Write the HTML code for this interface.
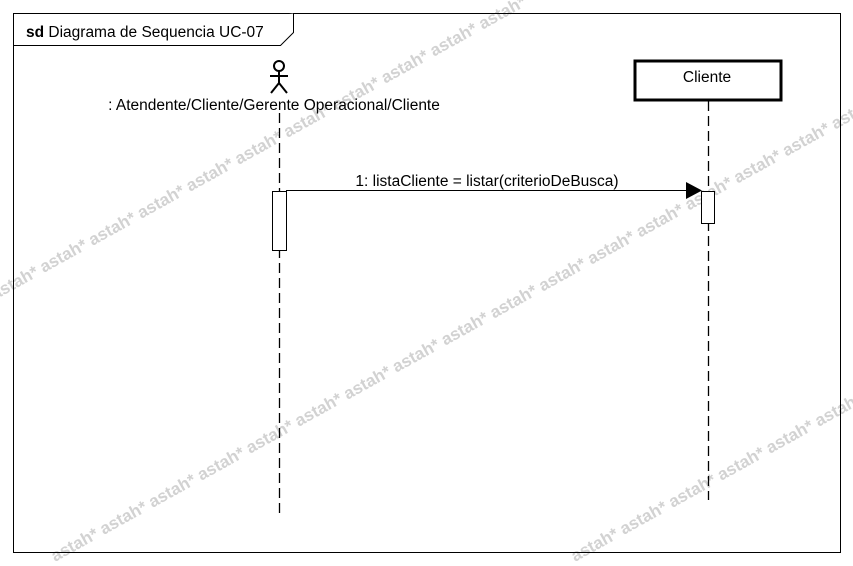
<!DOCTYPE html>
<html><head><meta charset="utf-8"><style>
html,body{margin:0;padding:0;background:#fff;}
svg{display:block;}
</style></head><body>
<svg width="853" height="566" viewBox="0 0 853 566" xmlns="http://www.w3.org/2000/svg" font-family="Liberation Sans, Arial, sans-serif">
<rect width="853" height="566" fill="#fff"/>
<g fill="#d2d2d2" font-size="17" font-weight="bold">
<text transform="translate(-5,300) rotate(-29)">astah* astah* astah* astah* astah* astah* astah* astah* astah* astah* astah*</text>
<text transform="translate(55,562) rotate(-29)">astah* astah* astah* astah* astah* astah* astah* astah* astah* astah* astah* astah* astah* astah* astah* astah* astah*</text>
<text transform="translate(575,562) rotate(-29)">astah* astah* astah* astah* astah* astah*</text>
</g>
<rect x="13.5" y="13.5" width="827" height="539" fill="none" stroke="#000" stroke-width="1"/>
<polyline points="13.5,45.5 280.5,45.5 293.5,32.5 293.5,13.5" fill="#fff" stroke="#000" stroke-width="1"/>
<text x="26" y="37" font-size="15.5"><tspan font-weight="bold">sd</tspan> Diagrama de Sequencia UC-07</text>
<!-- actor -->
<g stroke="#000" stroke-width="2" fill="none">
<circle cx="279" cy="66" r="5"/>
<line x1="279" y1="71" x2="279" y2="84"/>
<line x1="270" y1="76" x2="288" y2="76"/>
<line x1="279" y1="83" x2="271" y2="93"/>
<line x1="279" y1="83" x2="287" y2="93"/>
</g>
<text x="274" y="110" font-size="15.5" text-anchor="middle">: Atendente/Cliente/Gerente Operacional/Cliente</text>
<line x1="279.5" y1="113" x2="279.5" y2="513" stroke="#000" stroke-width="1.3" stroke-dasharray="10,5"/>
<rect x="272.5" y="191.5" width="14" height="59" fill="#fff" stroke="#000"/>
<!-- Cliente -->
<rect x="635" y="61" width="146" height="39" fill="#fff" stroke="#000" stroke-width="3"/>
<text x="707" y="82" font-size="15.5" text-anchor="middle">Cliente</text>
<line x1="708.5" y1="101" x2="708.5" y2="500" stroke="#000" stroke-width="1.3" stroke-dasharray="10,5"/>
<rect x="701.5" y="191.5" width="13" height="32" fill="#fff" stroke="#000"/>
<!-- message -->
<line x1="286" y1="190.5" x2="690" y2="190.5" stroke="#000" stroke-width="1"/>
<polygon points="686,182 702,190.5 686,199" fill="#000"/>
<text x="487" y="186" font-size="15.5" text-anchor="middle">1: listaCliente = listar(criterioDeBusca)</text>
</svg>
</body></html>
